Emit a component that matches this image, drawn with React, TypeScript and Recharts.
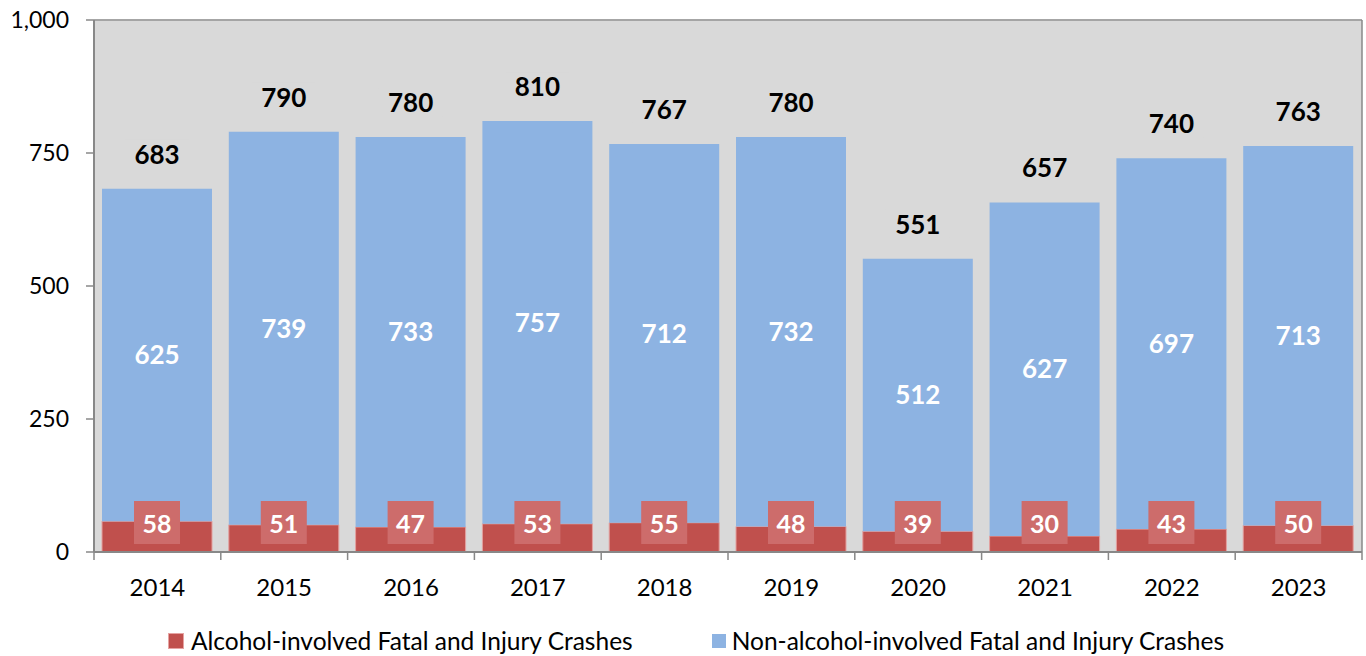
import React from 'react';
import {
  BarChart, Bar, XAxis, YAxis, CartesianGrid, LabelList, Legend, ReferenceLine,
} from 'recharts';

const years = ['2014', '2015', '2016', '2017', '2018', '2019', '2020', '2021', '2022', '2023'];
const alcohol = [58, 51, 47, 53, 55, 48, 39, 30, 43, 50];
const nonAlcohol = [625, 739, 733, 757, 712, 732, 512, 627, 697, 713];
const yTicks = [0, 250, 500, 750, 1000];

const data = years.map((year, i) => ({
  year,
  alcohol: alcohol[i],
  nonAlcohol: nonAlcohol[i],
}));

const FONT = 'Lato, "Open Sans", sans-serif';
const RED = '#c0504d';
const BLUE = '#8db3e2';
const BOX = '#cd6c6b';
const AXIS = '#888888';
const BAND = 126.8;

const YearTick = (props: any) => {
  const { x, y, payload, index, visibleTicksCount } = props;
  const axisY = y - 8;
  return (
    <g>
      <line x1={x - BAND / 2} x2={x - BAND / 2} y1={axisY} y2={axisY + 8} stroke={AXIS} strokeWidth={1.5} />
      {index === visibleTicksCount - 1 && (
        <line x1={x + BAND / 2} x2={x + BAND / 2} y1={axisY} y2={axisY + 8} stroke={AXIS} strokeWidth={1.5} />
      )}
      <text x={x} y={axisY + 34} textAnchor="middle" dominantBaseline="central"
        fontFamily={FONT} fontSize={24} fill="#000">
        {payload.value}
      </text>
    </g>
  );
};

const TotalLabel = (props: any) => {
  const { x, y, width, index } = props;
  const total = alcohol[index] + nonAlcohol[index];
  const cx = x + width / 2;
  const cy = y - 35;
  return (
    <g>
      <rect x={cx - 32} y={cy - 14} width={64} height={28} fill="#d9d9d9" />
      <text x={cx} y={cy} textAnchor="middle" dominantBaseline="central"
        fontFamily={FONT} fontWeight="bold" fontSize={26} fill="#000">
        {total}
      </text>
    </g>
  );
};

const AlcoholLabel = (props: any) => {
  const { x, y, width, height, index } = props;
  const perUnit = height / nonAlcohol[index];
  const baseY = y + height + alcohol[index] * perUnit;
  const cx = x + width / 2;
  const top = baseY - 51;
  return (
    <g>
      <rect x={cx - 23} y={top} width={46} height={43} fill={BOX} />
      <text x={cx} y={top + 21.5} textAnchor="middle" dominantBaseline="central"
        fontFamily={FONT} fontWeight="bold" fontSize={25} fill="#fff">
        {alcohol[index]}
      </text>
    </g>
  );
};

const LegendBox = () => (
  <div style={{ height: 48, display: 'flex', justifyContent: 'center', alignItems: 'flex-end', fontFamily: FONT, fontSize: 24.5, color: '#000', paddingLeft: 28, boxSizing: 'border-box' }}>
    <div style={{ display: 'flex', alignItems: 'center', marginRight: 79, lineHeight: '30px' }}>
      <span style={{ width: 14, height: 14, background: RED, border: '1px solid #e6a3a2', marginRight: 7 }} />
      Alcohol-involved Fatal and Injury Crashes
    </div>
    <div style={{ display: 'flex', alignItems: 'center', lineHeight: '30px' }}>
      <span style={{ width: 14, height: 14, background: BLUE, marginRight: 6 }} />
      Non-alcohol-involved Fatal and Injury Crashes
    </div>
  </div>
);

export default function App() {
  return (
    <div style={{ position: 'absolute', left: 0, top: 0, background: '#fff' }}>
      <BarChart width={1366} height={656} data={data}
        margin={{ top: 20, right: 2, left: 0, bottom: 0 }} barSize={110}>
        <CartesianGrid vertical={false} stroke="#ffffff" strokeWidth={1.5} fill="#d9d9d9" />
        <XAxis dataKey="year" height={56} axisLine={{ stroke: AXIS, strokeWidth: 2 }}
          tickLine={false} tick={<YearTick />} interval={0} tickSize={8} tickMargin={0} />
        <YAxis yAxisId="left" width={94} domain={[0, 1000]} ticks={yTicks}
          tickFormatter={(v) => v.toLocaleString('en-US')}
          axisLine={{ stroke: AXIS, strokeWidth: 2 }} tickLine={{ stroke: AXIS, strokeWidth: 1.5 }}
          tickSize={8} tickMargin={17}
          tick={{ fontFamily: FONT, fontSize: 23, fill: '#000' }} />
        <YAxis yAxisId="right" orientation="right" width={2} domain={[0, 1000]}
          tick={false} tickLine={false} axisLine={{ stroke: AXIS, strokeWidth: 1.5 }} />
        <ReferenceLine yAxisId="left" y={1000} stroke={AXIS} strokeWidth={1.5} />
        <Bar yAxisId="left" dataKey="alcohol" stackId="a" fill={RED} stroke="#e3a09f" strokeWidth={1}
          isAnimationActive={false} />
        <Bar yAxisId="left" dataKey="nonAlcohol" stackId="a" fill={BLUE} isAnimationActive={false}>
          <LabelList dataKey="nonAlcohol" position="center" fill="#fff"
            fontFamily={FONT} fontWeight="bold" fontSize={26} />
          <LabelList dataKey="nonAlcohol" content={<TotalLabel />} />
          <LabelList dataKey="alcohol" content={<AlcoholLabel />} />
        </Bar>
        <Legend verticalAlign="bottom" content={<LegendBox />} />
      </BarChart>
    </div>
  );
}
